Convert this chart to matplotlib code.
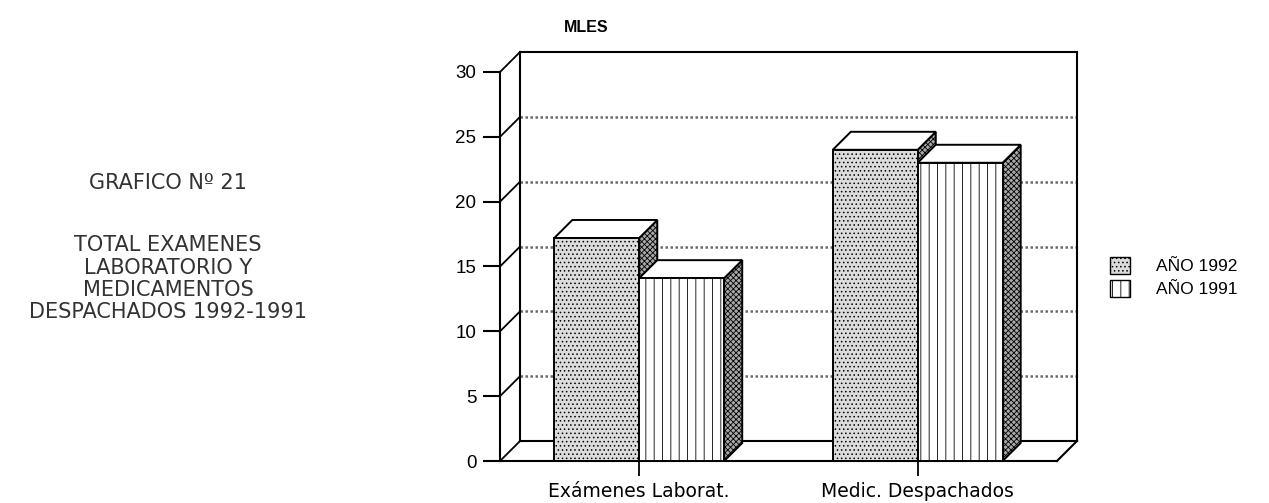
import matplotlib.pyplot as plt
from matplotlib.patches import Polygon, Rectangle, Patch

categories = ["Exámenes Laborat.", "Medic. Despachados"]
series_names = ["AÑO 1992", "AÑO 1991"]
values_1992 = [17.2, 24.0]
values_1991 = [14.1, 23.0]
y_ticks = [0, 5, 10, 15, 20, 25, 30]

plt.rcParams["hatch.linewidth"] = 0.6

fig = plt.figure(figsize=(12.69, 5.03), dpi=100)
ax = fig.add_axes([500 / 1269, 42 / 503, 577 / 1269, 409 / 503])

# pseudo 3d depth, in data units
ymax = 30
ddx = 0.072
ddy = 1.542
bdx = ddx * 0.9
bdy = ddy * 0.9
w = 0.305
x_lo, x_hi = -0.5, 1.5

ax.set_xlim(x_lo, x_hi + ddx)
ax.set_ylim(0, ymax + ddy)

for s in ["top", "right"]:
    ax.spines[s].set_visible(False)
ax.spines["left"].set_bounds(0, ymax)
ax.spines["bottom"].set_bounds(x_lo, x_hi)
ax.spines["left"].set_linewidth(1.5)
ax.spines["bottom"].set_linewidth(1.5)

# back wall grid
for v in y_ticks[1:-1]:
    ax.plot([x_lo + ddx, x_hi + ddx], [v + ddy, v + ddy], color="#6a6a6a",
            lw=1.8, ls=(0, (1, 1)), zorder=1)
# side wall diagonals
for v in y_ticks:
    ax.plot([x_lo, x_lo + ddx], [v, v + ddy], color="black", lw=1.3, zorder=2,
            clip_on=False)
frame = dict(color="black", lw=1.5, zorder=2, clip_on=False)
ax.plot([x_lo + ddx, x_lo + ddx], [ddy, ymax + ddy], **frame)
ax.plot([x_lo + ddx, x_hi + ddx], [ymax + ddy, ymax + ddy], **frame)
ax.plot([x_hi + ddx, x_hi + ddx], [ddy, ymax + ddy], **frame)
ax.plot([x_lo + ddx, x_hi + ddx], [ddy, ddy], **frame)
ax.plot([x_hi, x_hi + ddx], [0, ddy], **frame)


def bar3d(x0, v, face, hatch):
    ax.add_patch(Polygon([(x0 + w, 0), (x0 + w + bdx, bdy), (x0 + w + bdx, v + bdy), (x0 + w, v)],
                         facecolor="#a8a8a8", edgecolor="black", hatch="xxxxxx", lw=1.4, zorder=3))
    ax.add_patch(Polygon([(x0, v), (x0 + bdx, v + bdy), (x0 + w + bdx, v + bdy), (x0 + w, v)],
                         facecolor="white", edgecolor="black", lw=1.4, zorder=3))
    ax.add_patch(Rectangle((x0, 0), w, v, facecolor=face, edgecolor="black",
                           hatch=hatch, lw=1.4, zorder=3))


for i in range(len(categories)):
    bar3d(i - w, values_1992[i], "#dcdcdc", "....")
    bar3d(i, values_1991[i], "white", "||")

ax.set_yticks(y_ticks)
ax.set_yticklabels([str(t) for t in y_ticks], fontsize=13.5, family="Liberation Sans")
ax.tick_params(axis="y", direction="out", length=12, width=1.5, pad=5)
ax.set_xticks(range(len(categories)))
ax.set_xticklabels(categories, fontsize=13.5, family="DejaVu Sans")
ax.tick_params(axis="x", direction="out", length=11, width=1.3, pad=4)

fig.text(586 / 1269, 1 - 28 / 503, "MLES", fontsize=11.5, fontweight="bold",
         family="Liberation Sans", ha="center", va="center")

left_txt = dict(fontsize=15, family="DejaVu Sans", ha="center", va="center", color="#333333")
fig.text(168 / 1269, 1 - 183 / 503, "GRAFICO Nº 21", **left_txt)
for k, line in enumerate(["TOTAL EXAMENES", "LABORATORIO Y", "MEDICAMENTOS", "DESPACHADOS 1992-1991"]):
    fig.text(168 / 1269, 1 - (245 + 22.5 * k) / 503, line, **left_txt)

handles = [Patch(facecolor="#dcdcdc", edgecolor="black", hatch="...."),
           Patch(facecolor="white", edgecolor="black", hatch="||")]
fig.legend(handles, series_names, loc="center left", bbox_to_anchor=(1094 / 1269, 1 - 277 / 503),
           frameon=False, prop={"family": "Liberation Sans", "size": 12.5},
           handlelength=1.2, handleheight=1.2, handletextpad=1.5, labelspacing=0.3)

fig.savefig("out.png", dpi=100)
